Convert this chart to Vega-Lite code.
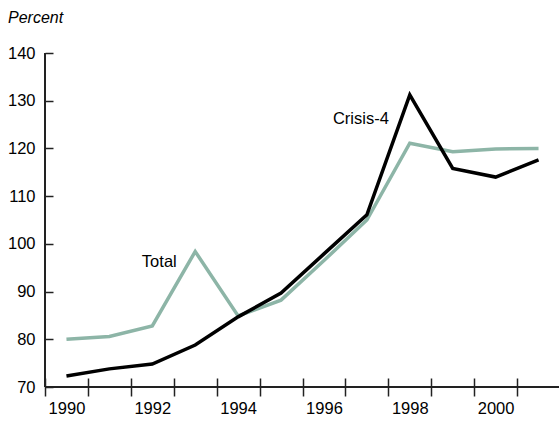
{
  "$schema": "https://vega.github.io/schema/vega-lite/v6.json",
  "width": 515,
  "height": 334,
  "autosize": "none",
  "padding": {"left": 45, "top": 53, "right": 0, "bottom": 35},
  "background": "white",
  "config": {
    "view": {"stroke": null},
    "font": "Liberation Sans",
    "axis": {"grid": false, "labelFont": "Liberation Sans", "labelFontSize": 16.5, "labelColor": "#000", "title": null}
  },
  "title": {
    "text": "Percent",
    "anchor": "start",
    "frame": "group",
    "font": "Liberation Sans",
    "fontSize": 16,
    "fontStyle": "italic",
    "fontWeight": "normal",
    "color": "#000",
    "dx": -37,
    "offset": 19
  },
  "layer": [
    {
      "data": {"values": [
        {"year": 1990, "series": "Total", "value": 80.0},
        {"year": 1991, "series": "Total", "value": 80.6},
        {"year": 1992, "series": "Total", "value": 82.8},
        {"year": 1993, "series": "Total", "value": 98.4},
        {"year": 1994, "series": "Total", "value": 84.9},
        {"year": 1995, "series": "Total", "value": 88.2},
        {"year": 1996, "series": "Total", "value": 96.5},
        {"year": 1997, "series": "Total", "value": 105.0},
        {"year": 1998, "series": "Total", "value": 121.1},
        {"year": 1999, "series": "Total", "value": 119.3},
        {"year": 2000, "series": "Total", "value": 119.9},
        {"year": 2001, "series": "Total", "value": 120.0},
        {"year": 1990, "series": "Crisis-4", "value": 72.3},
        {"year": 1991, "series": "Crisis-4", "value": 73.8},
        {"year": 1992, "series": "Crisis-4", "value": 74.8},
        {"year": 1993, "series": "Crisis-4", "value": 78.8},
        {"year": 1994, "series": "Crisis-4", "value": 84.7},
        {"year": 1995, "series": "Crisis-4", "value": 89.7},
        {"year": 1996, "series": "Crisis-4", "value": 97.9},
        {"year": 1997, "series": "Crisis-4", "value": 106.1},
        {"year": 1998, "series": "Crisis-4", "value": 131.2},
        {"year": 1999, "series": "Crisis-4", "value": 115.8},
        {"year": 2000, "series": "Crisis-4", "value": 114.0},
        {"year": 2001, "series": "Crisis-4", "value": 117.6}
      ]},
      "mark": {"type": "line", "strokeWidth": 3.5, "strokeJoin": "miter"},
      "encoding": {
        "x": {
          "field": "year", "type": "ordinal",
          "scale": {"type": "band", "paddingInner": 0, "paddingOuter": 0},
          "axis": {
            "labelAngle": 0,
            "tickBand": "extent",
            "tickSize": 18,
            "tickWidth": 1.5,
            "tickColor": "#222",
            "offset": -9,
            "domain": false,
            "labelPadding": 4,
            "labelExpr": "datum.value % 2 == 0 ? datum.label : ''"
          }
        },
        "y": {
          "field": "value", "type": "quantitative",
          "scale": {"domain": [70, 140], "nice": false, "zero": false},
          "axis": {
            "values": [70, 80, 90, 100, 110, 120, 130, 140],
            "tickSize": 8,
            "tickWidth": 1.5,
            "tickColor": "#222",
            "offset": -8,
            "domain": false,
            "labelPadding": 10
          }
        },
        "color": {
          "field": "series", "type": "nominal",
          "scale": {"domain": ["Total", "Crisis-4"], "range": ["#8db5a7", "#000000"]},
          "legend": null
        },
        "order": {"field": "series", "sort": "descending"}
      }
    },
    {
      "data": {"values": [{}]},
      "mark": {"type": "rule", "color": "#222", "strokeWidth": 2},
      "encoding": {"y": {"datum": 70}}
    },
    {
      "data": {"values": [{}]},
      "mark": {"type": "rule", "color": "#222", "strokeWidth": 2},
      "encoding": {"x": {"datum": 1990, "type": "ordinal", "bandPosition": 0}}
    },
    {
      "data": {"values": [
        {"year": 1997, "value": 126.2, "label": "Crisis-4"}
      ]},
      "mark": {"type": "text", "fontSize": 16.5, "font": "Liberation Sans", "color": "#000", "align": "center", "baseline": "middle", "dx": -6},
      "encoding": {
        "x": {"field": "year", "type": "ordinal", "bandPosition": 0.5},
        "y": {"field": "value", "type": "quantitative"},
        "text": {"field": "label"}
      }
    },
    {
      "data": {"values": [
        {"year": 1992, "value": 96.2, "label": "Total"}
      ]},
      "mark": {"type": "text", "fontSize": 16.5, "font": "Liberation Sans", "color": "#000", "align": "center", "baseline": "middle", "dx": 7},
      "encoding": {
        "x": {"field": "year", "type": "ordinal", "bandPosition": 0.5},
        "y": {"field": "value", "type": "quantitative"},
        "text": {"field": "label"}
      }
    }
  ]
}
